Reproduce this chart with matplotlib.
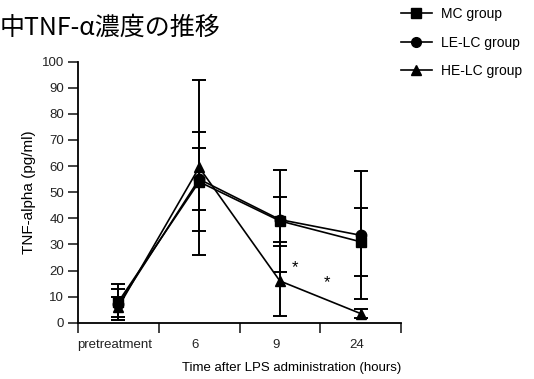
import matplotlib
matplotlib.use("Agg")
import matplotlib.pyplot as plt
from matplotlib.lines import Line2D

plt.rcParams['font.family'] = ['Liberation Sans', 'DejaVu Sans']

# 時点ごとの平均値とSD
times = ['pretreatment', '6', '9', '24']
groups = ['MC group', 'LE-LC group', 'HE-LC group']
mc_mean = [8, 54, 39, 31]
mc_sd = [7, 19, 19.5, 13]
le_mean = [7, 55, 39.5, 33.5]
le_sd = [6, 12, 8.5, 24.5]
he_mean = [6, 59.5, 16, 3.5]
he_sd = [4, 33.5, 13.5, 1.8]
# 有意差マーク (x位置, 値)
sig_marks = [(2.19, 21), (2.58, 15.5)]

fig = plt.figure(figsize=(5.34, 3.79), dpi=100)
ax = fig.add_axes([78 / 534, 1 - 322.7 / 379, 323 / 534, 261 / 379])

x = list(range(len(times)))
handles = []
for mean, sd, marker, label in [(mc_mean, mc_sd, 's', groups[0]),
                                (le_mean, le_sd, 'o', groups[1]),
                                (he_mean, he_sd, '^', groups[2])]:
    ax.errorbar(x, mean, yerr=sd, color='black', lw=1.2, marker=marker,
                markersize=7.5, capsize=5, capthick=1.4, elinewidth=1.4,
                clip_on=False)
    handles.append(Line2D([], [], color='black', lw=1.2, marker=marker,
                          markersize=7, label=label))

for sx, sy in sig_marks:
    ax.text(sx, sy, '*', fontsize=12, ha='center', va='center')

ax.set_xlim(-0.5, 3.5)
ax.set_ylim(0, 100)
ax.set_yticks(range(0, 101, 10))
ax.set_xticks([-0.5, 0.5, 1.5, 2.5, 3.5])
ax.set_xticklabels([])
ax.set_xticks([i - 0.05 for i in x], minor=True)
ax.set_xticklabels(times, minor=True)
ax.tick_params(axis='x', which='minor', length=0, pad=12, labelsize=9.5, colors='#222222')
ax.tick_params(axis='both', which='major', direction='out', length=7, width=1.2,
               labelsize=9.5, colors='#222222')
ax.tick_params(axis='y', pad=3)
for side in ['top', 'right']:
    ax.spines[side].set_visible(False)
for side in ['left', 'bottom']:
    ax.spines[side].set_linewidth(1.3)

ax.set_ylabel('TNF-alpha (pg/ml)', fontsize=11)
ax.set_xlabel('Time after LPS administration (hours)', fontsize=9.5, loc='right', labelpad=8)

fig.legend(handles=handles, loc='upper left', bbox_to_anchor=(401 / 534, 1 - 7 / 379),
           frameon=False, borderaxespad=0, borderpad=0, handlelength=2.2,
           handletextpad=0.7, labelspacing=1.05, fontsize=10)

fig.text(0.0, 1 - 28 / 379, '中TNF-α濃度の推移', fontsize=18, ha='left', va='center',
         family=['Noto Sans CJK JP', 'DejaVu Sans'])

fig.savefig('out.png', dpi=100)
